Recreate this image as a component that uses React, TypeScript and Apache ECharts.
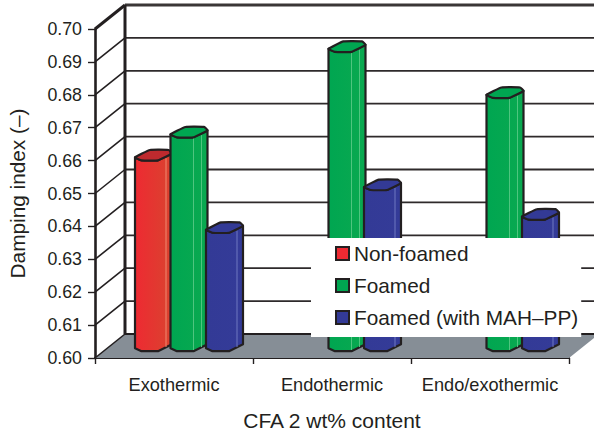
import React, { useEffect, useRef } from "react";
import * as echarts from "echarts";

const categories = ["Exothermic", "Endothermic", "Endo/exothermic"];
const nonFoamed = [0.658, null, null];
const foamed = [0.665, 0.691, 0.677];
const foamedMah = [0.636, 0.649, 0.64];
const yTicks = [0.6, 0.61, 0.62, 0.63, 0.64, 0.65, 0.66, 0.67, 0.68, 0.69, 0.7];

const INK = "#231f20";
const FONT = "'Liberation Sans', Arial, sans-serif";

// Oblique projection used for the chart's floor and back wall.
const DEPTH_X = 30;
const DEPTH_Y = -24;
// Bars stand half way into the floor.
const BAR_LIFT = 12;
// Outline of the octagonal bar: left corner, two front corners, right corner, back corners.
const PRISM = [
  [0, 2.2],
  [6.5, 5.2],
  [23, 5.2],
  [37, -1.8],
  [33.5, -5.2],
  [15, -5.2],
];

const wallItem = (_: any, api: any) => {
  const v = api.value(1);
  const band = api.size([1, 0])[0];
  const [cx, y] = api.coord([0, v]);
  const x0 = cx - band / 2;
  const bx = x0 + DEPTH_X;
  const by = y + DEPTH_Y;
  const xEnd = x0 + band * categories.length;
  const isTop = v >= 0.7;
  const isFloor = v <= 0.6;
  const children: any[] = [];
  const line = { stroke: INK, lineWidth: isTop ? 3 : 1.6 };
  if (isFloor) {
    children.push({
      type: "polygon",
      shape: { points: [[x0, y], [bx, by], [xEnd + DEPTH_X, by], [xEnd, y]] },
      style: { fill: "#868e96", stroke: "none" },
    });
    children.push({
      type: "line",
      shape: { x1: bx, y1: by, x2: xEnd + DEPTH_X, y2: by },
      style: { stroke: INK, lineWidth: 2 },
    });
  } else {
    children.push({
      type: "line",
      shape: { x1: bx, y1: by, x2: xEnd + DEPTH_X, y2: by },
      style: isTop ? { stroke: "#3a3637", lineWidth: 3 } : { stroke: "#2e2a2b", lineWidth: 1.8 },
    });
  }
  children.push({
    type: "line",
    shape: { x1: x0, y1: y, x2: bx, y2: by },
    style: line,
  });
  if (isTop) {
    const [, yFloor] = api.coord([0, 0.6]);
    children.push({
      type: "line",
      shape: { x1: bx, y1: by, x2: bx, y2: yFloor + DEPTH_Y },
      style: { stroke: INK, lineWidth: 3 },
    });
  }
  return { type: "group", children };
};

const barItem = (slot: number, palette: any) => (_: any, api: any) => {
  const v = api.value(1);
  if (v == null || Number.isNaN(v)) return null;
  const band = api.size([1, 0])[0];
  const [cx, yTop] = api.coord([api.value(0), v]);
  const [, yBase] = api.coord([api.value(0), 0.6]);
  const L = cx - band / 2 + 40 + 35.5 * slot;
  const top = yTop - BAR_LIFT;
  const base = yBase - BAR_LIFT;
  const capPts = PRISM.map(([dx, dy]) => [L + dx, top + dy]);
  const bodyPts = [
    [L, top + PRISM[0][1]],
    [L + PRISM[1][0], top + PRISM[1][1]],
    [L + PRISM[2][0], top + PRISM[2][1]],
    [L + PRISM[3][0], top + PRISM[3][1]],
    [L + PRISM[3][0], base + PRISM[3][1]],
    [L + PRISM[2][0], base + PRISM[2][1]],
    [L + PRISM[1][0], base + PRISM[1][1]],
    [L, base + PRISM[0][1]],
  ];
  const fill = new echarts.graphic.LinearGradient(0, 0, 1, 0, [
    { offset: 0, color: palette.left },
    { offset: 1, color: palette.right },
  ]);
  const stroke = { stroke: INK, lineWidth: 2.2, lineJoin: "round" };
  const strips = palette.strips.map((dx: number) => ({
    type: "line",
    shape: {
      x1: L + dx,
      y1: top + (dx < 25 ? 5 : 3),
      x2: L + dx,
      y2: base + (dx < 25 ? 4 : 1),
    },
    style: { stroke: palette.strip, lineWidth: 1 },
  }));
  return {
    type: "group",
    children: [
      { type: "polygon", shape: { points: bodyPts }, style: { fill, ...stroke } },
      ...strips,
      {
        type: "polygon",
        shape: { points: capPts, smooth: 0.12 },
        style: { fill: palette.cap, ...stroke },
      },
    ],
  };
};

const palettes = [
  { left: "#ee2a32", right: "#d9432f", cap: "#bf2a2e", strip: "#ef8a70", strips: [31] },
  { left: "#00a651", right: "#0aa950", cap: "#00a651", strip: "#4fc57f", strips: [23, 31] },
  { left: "#333a96", right: "#343b98", cap: "#333a96", strip: "#6f78c0", strips: [31] },
];

const asData = (vals: (number | null)[]) => vals.map((v, i) => [i, v]);

const legendEntry = (name: string, color: string) => ({
  name,
  icon: "rect",
  itemStyle: { color, borderColor: INK, borderWidth: 2 },
});

export default function App() {
  const ref = useRef<HTMLDivElement>(null);
  useEffect(() => {
    const chart = echarts.init(ref.current!, undefined, { renderer: "svg" });
    chart.setOption({
      animation: false,
      backgroundColor: "#ffffff",
      textStyle: { fontFamily: FONT, color: INK },
      grid: { left: 95, right: 25, top: 29, bottom: 77, outerBoundsMode: "none" },
      xAxis: {
        type: "category",
        data: categories,
        name: "CFA 2 wt% content",
        nameLocation: "middle",
        nameGap: 52,
        nameTextStyle: { fontSize: 21, color: INK, fontFamily: FONT },
        axisLine: { lineStyle: { color: INK, width: 2.2 } },
        axisTick: { show: true, length: 6, lineStyle: { color: INK, width: 1.4 } },
        axisLabel: { fontSize: 18.2, color: INK, margin: 18, fontFamily: FONT, interval: 0, hideOverlap: false },
        splitLine: { show: false },
      },
      yAxis: {
        type: "value",
        min: 0.6,
        max: 0.7,
        interval: 0.01,
        name: "Damping index (–)",
        nameLocation: "middle",
        nameGap: 67,
        nameTextStyle: { fontSize: 20.8, color: INK, fontFamily: FONT },
        axisLine: { show: true, lineStyle: { color: INK, width: 2.6 } },
        axisTick: { show: true, length: 7, lineStyle: { color: INK, width: 1.4 } },
        axisLabel: {
          fontSize: 17.8,
          color: INK,
          margin: 13,
          fontFamily: FONT,
          formatter: (v: number) => v.toFixed(2),
        },
        splitLine: { show: false },
      },
      legend: {
        orient: "vertical",
        left: 311,
        top: 238,
        z: 20,
        padding: [5, 3, 9, 24],
        backgroundColor: "#ffffff",
        itemWidth: 13,
        itemHeight: 13,
        itemGap: 11,
        textStyle: { fontSize: 20.8, color: INK, fontFamily: FONT },
        data: [
          legendEntry("Non-foamed", "#ee2a32"),
          legendEntry("Foamed", "#00a651"),
          legendEntry("Foamed (with MAH–PP)", "#333a96"),
        ],
      },
      series: [
        {
          type: "custom",
          name: "walls",
          z: 1,
          clip: false,
          silent: true,
          renderItem: wallItem,
          data: yTicks.map((t) => [0, t]),
        },
        ...[nonFoamed, foamed, foamedMah].map((vals, i) => ({
          type: "custom",
          name: ["Non-foamed", "Foamed", "Foamed (with MAH–PP)"][i],
          z: 2 + i,
          clip: false,
          itemStyle: { color: palettes[i].left },
          renderItem: barItem(i, palettes[i]),
          data: asData(vals),
        })),
      ],
    });
    return () => chart.dispose();
  }, []);
  return (
    <div
      ref={ref}
      style={{ position: "absolute", left: 0, top: 0, width: 594, height: 435 }}
    />
  );
}
